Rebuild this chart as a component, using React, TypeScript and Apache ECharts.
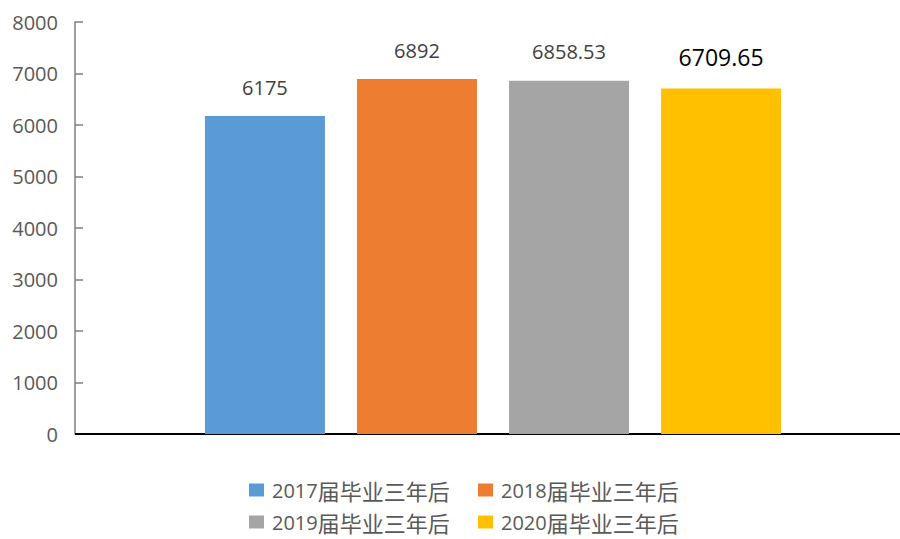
import React, { useEffect, useRef } from "react";
import * as echarts from "echarts";

const seriesNames = ["2017届毕业三年后", "2018届毕业三年后", "2019届毕业三年后", "2020届毕业三年后"];
const values = [6175, 6892, 6858.53, 6709.65];
const colors = ["#5B9BD5", "#ED7D31", "#A5A5A5", "#FFC000"];
const yTicks = { min: 0, max: 8000, interval: 1000 };
const legendPos = [
  { left: 249, top: 479 },
  { left: 478, top: 479 },
  { left: 249, top: 511 },
  { left: 478, top: 511 },
];

export default function App() {
  const ref = useRef<HTMLDivElement>(null);
  useEffect(() => {
    if (!ref.current) return;
    const chart = echarts.init(ref.current, null, { renderer: "svg" });
    const numFont = "'Open Sans', 'Noto Sans CJK SC', sans-serif";
    const gridLeft = 86;
    const gridBottom = 105;
    chart.setOption({
      animation: false,
      backgroundColor: "#ffffff",
      grid: { left: gridLeft, right: 0, top: 22, bottom: gridBottom, containLabel: false },
      graphic: [
        {
          type: "line",
          shape: { x1: 75, y1: 539 - gridBottom, x2: gridLeft + 1, y2: 539 - gridBottom },
          style: { stroke: "#000000", lineWidth: 2 },
          z: 10,
        },
      ],
      xAxis: {
        type: "category",
        data: [""],
        axisLine: { show: true, lineStyle: { color: "#000000", width: 2 } },
        axisTick: { show: false },
        axisLabel: { show: false },
        splitLine: { show: false },
      },
      yAxis: {
        type: "value",
        min: yTicks.min,
        max: yTicks.max,
        interval: yTicks.interval,
        offset: gridLeft - 75,
        axisLine: { show: true, lineStyle: { color: "#7f7f7f", width: 1.5 } },
        axisTick: { show: true, inside: true, length: 8, lineStyle: { color: "#7f7f7f", width: 1.5 } },
        axisLabel: {
          color: "#595959",
          fontSize: 20,
          fontFamily: numFont,
          margin: 17,
          formatter: (v: number) => String(v),
        },
        splitLine: { show: false },
      },
      legend: seriesNames.map((n, i) => ({
        data: [n],
        left: legendPos[i].left,
        top: legendPos[i].top,
        padding: 0,
        icon: "rect",
        itemWidth: 15,
        itemHeight: 13,
        itemGap: 0,
        formatter: (name: string) => `{a|${name.slice(0, 4)}}{b|${name.slice(4)}}`,
        textStyle: {
          color: "#595959",
          padding: [0, 0, 0, 3],
          rich: {
            a: { fontFamily: numFont, fontSize: 20, color: "#595959", lineHeight: 22 },
            b: { fontFamily: "'Noto Sans CJK SC', sans-serif", fontSize: 22, color: "#595959", lineHeight: 22 },
          },
        },
      })),
      series: seriesNames.map((n, i) => ({
        name: n,
        type: "bar",
        data: [values[i]],
        barWidth: 120,
        barGap: "26.7%",
        itemStyle: { color: colors[i] },
        label: {
          show: true,
          position: "top",
          distance: i === 3 ? 20 : 19,
          color: i === 3 ? "#000000" : "#404040",
          fontSize: i === 3 ? 23 : 20,
          fontFamily: numFont,
        },
      })),
    });
    return () => chart.dispose();
  }, []);
  return <div ref={ref} style={{ width: 900, height: 539, position: "absolute", left: 0, top: 0 }} />;
}
